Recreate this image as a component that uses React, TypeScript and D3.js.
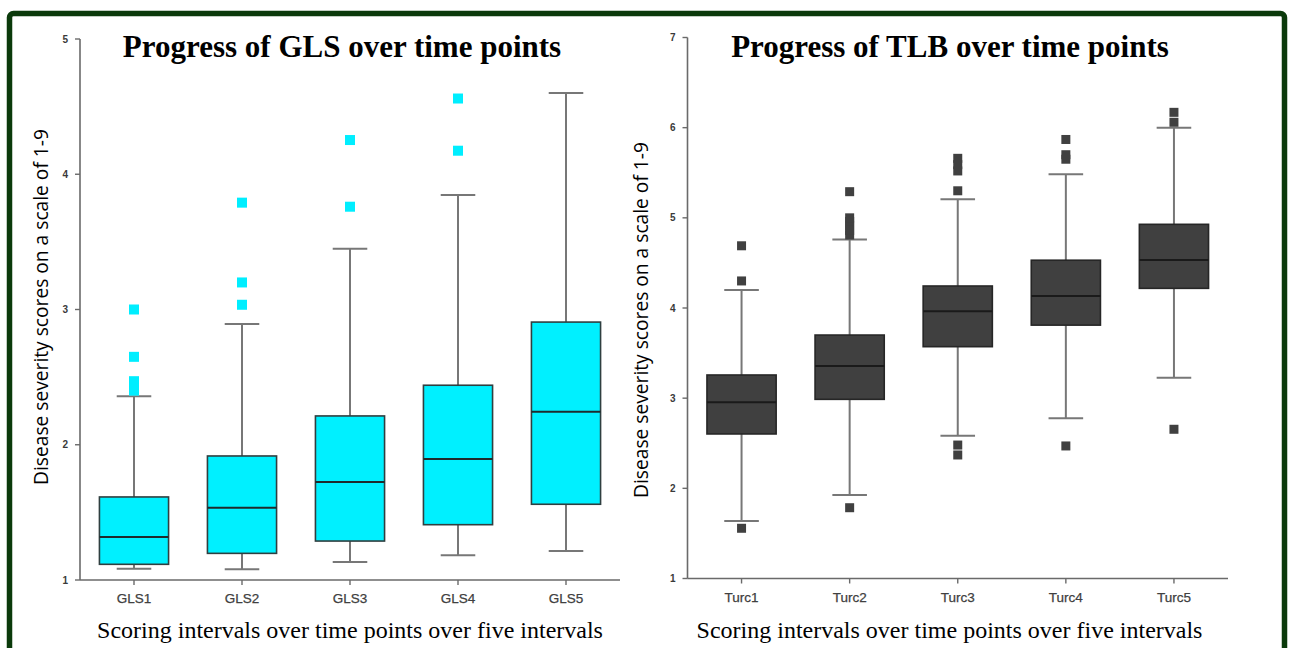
import React from "react";
import * as d3 from "d3";

// ---------- Data ----------
const glsCategories = ["GLS1", "GLS2", "GLS3", "GLS4", "GLS5"];
const glsLow = [1.084, 1.079, 1.133, 1.183, 1.214];
const glsQ1 = [1.116, 1.197, 1.288, 1.409, 1.56];
const glsMedian = [1.318, 1.535, 1.725, 1.895, 2.244];
const glsQ3 = [1.614, 1.917, 2.213, 2.44, 2.907];
const glsHigh = [2.358, 2.893, 3.45, 3.847, 4.6];
const glsOutliers = [
  [2.4, 2.47, 2.65, 3.0],
  [3.035, 3.2, 3.79],
  [3.76, 4.253],
  [4.174, 4.56],
  [],
];
const glsTicks = [1, 2, 3, 4, 5];

const tlbCategories = ["Turc1", "Turc2", "Turc3", "Turc4", "Turc5"];
const tlbLow = [1.638, 1.926, 2.584, 2.777, 3.227];
const tlbQ1 = [2.603, 2.987, 3.571, 3.81, 4.218];
const tlbMedian = [2.954, 3.357, 3.963, 4.133, 4.532];
const tlbQ3 = [3.257, 3.7, 4.244, 4.53, 4.928];
const tlbHigh = [4.2, 4.76, 5.205, 5.483, 6.0];
const tlbOutliers = [
  [1.557, 4.3, 4.69],
  [1.785, 4.81, 4.86, 4.91, 4.96, 5.0, 5.29],
  [2.37, 2.48, 5.3, 5.52, 5.59, 5.66],
  [2.47, 5.65, 5.7, 5.869],
  [2.655, 6.06, 6.17],
];
const tlbTicks = [1, 2, 3, 4, 5, 6, 7];

const titleGLS = "Progress of GLS over time points";
const titleTLB = "Progress of TLB over time points";
const xTitle = "Scoring intervals over time points over five intervals";
const yTitle = "Disease severity scores on a scale of 1-9";

type PanelProps = {
  cats: string[];
  low: number[];
  q1: number[];
  med: number[];
  q3: number[];
  high: number[];
  outliers: number[][];
  ticks: number[];
  xRange: [number, number];
  yDomain: [number, number];
  yRange: [number, number];
  fill: string;
  boxStroke: string;
  medianStroke: string;
  outlierFill: string;
  outlierSize: number;
  title: string;
  titleX: number;
  xTitleX: number;
  yTitleX: number;
  yTitleY: number;
};

function Panel(p: PanelProps) {
  const x = d3.scaleBand<string>().domain(p.cats).range(p.xRange).padding(0);
  const y = d3.scaleLinear().domain(p.yDomain).range(p.yRange);
  const bw = x.bandwidth();
  const boxW = bw * 0.64;
  const capW = boxW * 0.5;
  const axisX = p.xRange[0];
  const axisY = p.yRange[0];
  const axisColor = "#6a6a6a";
  return (
    <g>
      {/* y axis */}
      <line x1={axisX} x2={axisX} y1={y(p.yDomain[0])} y2={y(p.yDomain[1])} stroke={axisColor} strokeWidth={1.6} />
      {p.ticks.map((t) => (
        <g key={"yt" + t}>
          <line x1={axisX - 5} x2={axisX} y1={y(t)} y2={y(t)} stroke={axisColor} strokeWidth={1.4} />
          <text
            x={axisX - 12}
            y={y(t)}
            dy="0.35em"
            textAnchor="end"
            fontFamily="Liberation Sans, Arial, sans-serif"
            fontSize={10}
            fontWeight="bold"
            fill="#3a3a3a"
          >
            {t}
          </text>
        </g>
      ))}
      {/* x axis */}
      <line x1={p.xRange[0]} x2={p.xRange[1]} y1={axisY} y2={axisY} stroke={axisColor} strokeWidth={1.6} />
      {p.cats.map((c) => {
        const cx = (x(c) as number) + bw / 2;
        return (
          <g key={"xt" + c}>
            <line x1={cx} x2={cx} y1={axisY} y2={axisY + 5} stroke={axisColor} strokeWidth={1.4} />
            <text
              x={cx}
              y={axisY + 23}
              textAnchor="middle"
              fontFamily="Liberation Sans, Arial, sans-serif"
              fontSize={13.5}
              fill="#404040"
              stroke="#404040"
              strokeWidth={0.25}
            >
              {c}
            </text>
          </g>
        );
      })}
      {/* boxes */}
      {p.cats.map((c, i) => {
        const cx = (x(c) as number) + bw / 2;
        return (
          <g key={"b" + c}>
            <line x1={cx} x2={cx} y1={y(p.high[i])} y2={y(p.q3[i])} stroke="#777" strokeWidth={2} />
            <line x1={cx} x2={cx} y1={y(p.q1[i])} y2={y(p.low[i])} stroke="#777" strokeWidth={2} />
            <line x1={cx - capW / 2} x2={cx + capW / 2} y1={y(p.high[i])} y2={y(p.high[i])} stroke="#777" strokeWidth={2} />
            <line x1={cx - capW / 2} x2={cx + capW / 2} y1={y(p.low[i])} y2={y(p.low[i])} stroke="#777" strokeWidth={2} />
            <rect
              x={cx - boxW / 2}
              y={y(p.q3[i])}
              width={boxW}
              height={y(p.q1[i]) - y(p.q3[i])}
              fill={p.fill}
              stroke={p.boxStroke}
              strokeWidth={1.6}
            />
            <line
              x1={cx - boxW / 2}
              x2={cx + boxW / 2}
              y1={y(p.med[i])}
              y2={y(p.med[i])}
              stroke={p.medianStroke}
              strokeWidth={2}
            />
            {p.outliers[i].map((o, j) => (
              <rect
                key={j}
                x={cx - p.outlierSize / 2}
                y={y(o) - p.outlierSize / 2}
                width={p.outlierSize}
                height={p.outlierSize}
                fill={p.outlierFill}
              />
            ))}
          </g>
        );
      })}
      {/* titles */}
      <text
        x={p.titleX}
        y={57}
        textAnchor="middle"
        fontFamily="Liberation Serif, Times New Roman, serif"
        fontWeight="bold"
        fontSize={31}
        fill="#000"
      >
        {p.title}
      </text>
      <text
        x={p.xTitleX}
        y={638}
        textAnchor="middle"
        fontFamily="Liberation Serif, Times New Roman, serif"
        fontSize={24}
        fill="#000"
      >
        {xTitle}
      </text>
      <text
        transform={`translate(${p.yTitleX},${p.yTitleY}) rotate(-90)`}
        textAnchor="middle"
        dy="0.35em"
        fontFamily="Open Sans, Noto Sans, sans-serif"
        fontSize={19.2}
        fill="#000"
      >
        {yTitle}
      </text>
    </g>
  );
}

export default function App() {
  return (
    <svg
      width={1293}
      height={648}
      style={{ position: "absolute", left: 0, top: 0, background: "#fff" }}
    >
      <rect x={0} y={0} width={1293} height={648} fill="#fff" />
      <rect x={9.5} y={13.5} width={1275} height={660} rx={4} fill="none" stroke="#0b3a0b" strokeWidth={5.5} />
      <Panel
        cats={glsCategories}
        low={glsLow}
        q1={glsQ1}
        med={glsMedian}
        q3={glsQ3}
        high={glsHigh}
        outliers={glsOutliers}
        ticks={glsTicks}
        xRange={[80, 620]}
        yDomain={[1, 5]}
        yRange={[580, 39]}
        fill="#00f0ff"
        boxStroke="#2f3f40"
        medianStroke="#1e2b2c"
        outlierFill="#00eeff"
        outlierSize={10}
        title={titleGLS}
        titleX={342}
        xTitleX={350}
        yTitleX={41}
        yTitleY={307}
      />
      <Panel
        cats={tlbCategories}
        low={tlbLow}
        q1={tlbQ1}
        med={tlbMedian}
        q3={tlbQ3}
        high={tlbHigh}
        outliers={tlbOutliers}
        ticks={tlbTicks}
        xRange={[687.5, 1228]}
        yDomain={[1, 7]}
        yRange={[578.5, 37.5]}
        fill="#404040"
        boxStroke="#262626"
        medianStroke="#1a1a1a"
        outlierFill="#404040"
        outlierSize={9}
        title={titleTLB}
        titleX={950}
        xTitleX={949.5}
        yTitleX={641}
        yTitleY={320}
      />
    </svg>
  );
}
